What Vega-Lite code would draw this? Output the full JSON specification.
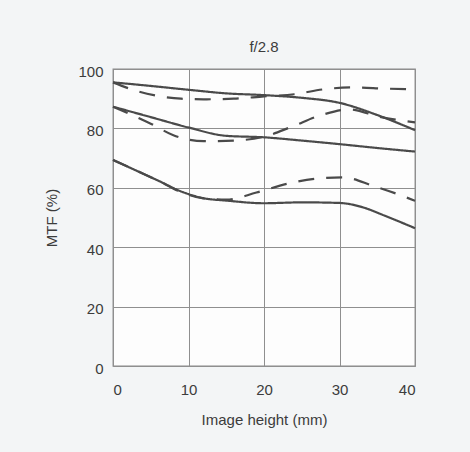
{
  "$schema": "https://vega.github.io/schema/vega-lite/v6.json",
  "width": 302,
  "height": 297,
  "autosize": "none",
  "padding": {"left": 113, "top": 69, "right": 55, "bottom": 86},
  "background": "#f3f5f6",
  "title": {"text": "f/2.8", "fontSize": 15, "fontWeight": "normal", "color": "#3c3c3c", "font": "Liberation Sans", "offset": 9},
  "config": {
    "view": {"stroke": "#8a8a8a", "strokeWidth": 1.3, "fill": "#fdfdfd"},
    "font": "Liberation Sans"
  },
  "data": {
    "values": [
      {"series": "S1", "style": "solid", "x": 0, "y": 95.5},
      {"series": "S1", "style": "solid", "x": 5, "y": 94.3},
      {"series": "S1", "style": "solid", "x": 10, "y": 93},
      {"series": "S1", "style": "solid", "x": 15, "y": 91.8},
      {"series": "S1", "style": "solid", "x": 20, "y": 91.2},
      {"series": "S1", "style": "solid", "x": 25, "y": 90.3},
      {"series": "S1", "style": "solid", "x": 30, "y": 88.6},
      {"series": "S1", "style": "solid", "x": 35, "y": 84.5},
      {"series": "S1", "style": "solid", "x": 40, "y": 79.4},
      {"series": "D1", "style": "dashed", "x": 0, "y": 95.5},
      {"series": "D1", "style": "dashed", "x": 3, "y": 92.7},
      {"series": "D1", "style": "dashed", "x": 6, "y": 90.9},
      {"series": "D1", "style": "dashed", "x": 9, "y": 90},
      {"series": "D1", "style": "dashed", "x": 12, "y": 89.8},
      {"series": "D1", "style": "dashed", "x": 16, "y": 90},
      {"series": "D1", "style": "dashed", "x": 20, "y": 90.8},
      {"series": "D1", "style": "dashed", "x": 24, "y": 91.5},
      {"series": "D1", "style": "dashed", "x": 28, "y": 93.2},
      {"series": "D1", "style": "dashed", "x": 32, "y": 93.8},
      {"series": "D1", "style": "dashed", "x": 36, "y": 93.4},
      {"series": "D1", "style": "dashed", "x": 39, "y": 93.2},
      {"series": "S2", "style": "solid", "x": 0, "y": 87.3},
      {"series": "S2", "style": "solid", "x": 5, "y": 83.8},
      {"series": "S2", "style": "solid", "x": 10, "y": 80.3},
      {"series": "S2", "style": "solid", "x": 15, "y": 77.5},
      {"series": "S2", "style": "solid", "x": 20, "y": 77},
      {"series": "S2", "style": "solid", "x": 25, "y": 75.9},
      {"series": "S2", "style": "solid", "x": 30, "y": 74.7},
      {"series": "S2", "style": "solid", "x": 35, "y": 73.4},
      {"series": "S2", "style": "solid", "x": 40, "y": 72.2},
      {"series": "D2", "style": "dashed", "x": 0, "y": 87.3},
      {"series": "D2", "style": "dashed", "x": 5, "y": 81.6},
      {"series": "D2", "style": "dashed", "x": 8, "y": 77.7},
      {"series": "D2", "style": "dashed", "x": 12, "y": 75.7},
      {"series": "D2", "style": "dashed", "x": 16, "y": 75.9},
      {"series": "D2", "style": "dashed", "x": 20, "y": 77.2},
      {"series": "D2", "style": "dashed", "x": 23.6, "y": 80.5},
      {"series": "D2", "style": "dashed", "x": 27.6, "y": 84.5},
      {"series": "D2", "style": "dashed", "x": 31.3, "y": 86.4},
      {"series": "D2", "style": "dashed", "x": 35.3, "y": 83.9},
      {"series": "D2", "style": "dashed", "x": 40, "y": 82},
      {"series": "S3", "style": "solid", "x": 0, "y": 69.4},
      {"series": "S3", "style": "solid", "x": 3, "y": 65.9},
      {"series": "S3", "style": "solid", "x": 6, "y": 62.4},
      {"series": "S3", "style": "solid", "x": 9, "y": 58.8},
      {"series": "S3", "style": "solid", "x": 12, "y": 56.5},
      {"series": "S3", "style": "solid", "x": 15, "y": 55.7},
      {"series": "S3", "style": "solid", "x": 20, "y": 54.8},
      {"series": "S3", "style": "solid", "x": 25, "y": 55.1},
      {"series": "S3", "style": "solid", "x": 30, "y": 54.9},
      {"series": "S3", "style": "solid", "x": 33, "y": 53.5},
      {"series": "S3", "style": "solid", "x": 36, "y": 50.6},
      {"series": "S3", "style": "solid", "x": 40, "y": 46.4},
      {"series": "D3", "style": "dashed", "x": 0, "y": 69.4},
      {"series": "D3", "style": "dashed", "x": 3, "y": 65.9},
      {"series": "D3", "style": "dashed", "x": 6, "y": 62.4},
      {"series": "D3", "style": "dashed", "x": 9, "y": 58.6},
      {"series": "D3", "style": "dashed", "x": 12, "y": 56.4},
      {"series": "D3", "style": "dashed", "x": 15, "y": 56},
      {"series": "D3", "style": "dashed", "x": 19, "y": 58.4},
      {"series": "D3", "style": "dashed", "x": 23, "y": 61.3},
      {"series": "D3", "style": "dashed", "x": 27, "y": 63.1},
      {"series": "D3", "style": "dashed", "x": 30.5, "y": 63.5},
      {"series": "D3", "style": "dashed", "x": 34.5, "y": 60.6},
      {"series": "D3", "style": "dashed", "x": 38.5, "y": 57.1},
      {"series": "D3", "style": "dashed", "x": 40, "y": 55.6}
    ]
  },
  "mark": {"type": "line", "interpolate": "monotone", "strokeWidth": 2.2, "color": "#4a4a4a"},
  "encoding": {
    "x": {
      "field": "x", "type": "quantitative",
      "scale": {"domain": [0, 40], "nice": false},
      "axis": {
        "values": [0, 10, 20, 30, 40], "title": "Image height (mm)",
        "grid": true, "gridColor": "#8f8f8f", "gridWidth": 1, "gridOpacity": 1,
        "domain": false, "ticks": false, "labelPadding": 16,
        "labelFontSize": 15, "labelColor": "#3c3c3c", "titleFontSize": 15, "titleFontWeight": "normal", "titleColor": "#3c3c3c", "titlePadding": 15
      }
    },
    "y": {
      "field": "y", "type": "quantitative",
      "scale": {"domain": [0, 100], "nice": false},
      "axis": {
        "values": [0, 20, 40, 60, 80, 100], "title": "MTF (%)",
        "grid": true, "gridColor": "#8f8f8f", "gridWidth": 1, "gridOpacity": 1,
        "domain": false, "ticks": false, "labelPadding": 10, "labelOffset": 2,
        "labelFontSize": 15, "labelColor": "#3c3c3c", "titleFontSize": 15, "titleFontWeight": "normal", "titleColor": "#3c3c3c", "titlePadding": 18
      }
    },
    "detail": {"field": "series"},
    "strokeDash": {
      "field": "style", "type": "nominal",
      "scale": {"domain": ["solid", "dashed"], "range": [[1, 0], [16, 12]]},
      "legend": null
    }
  }
}
